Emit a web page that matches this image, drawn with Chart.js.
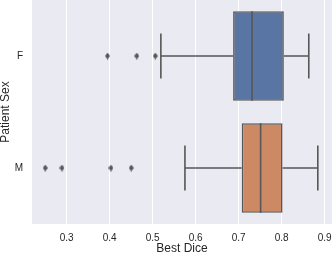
<!DOCTYPE html>
<html><head><meta charset="utf-8">
<script src="https://cdn.jsdelivr.net/npm/chart.js@4/dist/chart.umd.min.js"></script>
<style>html,body{margin:0;padding:0;background:#fff}</style>
</head><body>
<canvas id="c" width="332" height="256"></canvas>
<script>
// ---- data ----
const categories = ['F', 'M'];
const whiskerLow = [0.519, 0.575];
const q1 = [0.687, 0.707];
const median = [0.731, 0.751];
const q3 = [0.805, 0.802];
const whiskerHigh = [0.863, 0.884];
const outliersF = [0.395, 0.463, 0.506];
const outliersM = [0.250, 0.289, 0.403, 0.450];
const xTicks = [0.3, 0.4, 0.5, 0.6, 0.7, 0.8, 0.9];
const xLabel = 'Best Dice';
const yLabel = 'Patient Sex';

// ---- styles ----
const boxColors = ['#5875a4', '#cc8963'];
const lineGray = '#575757';
const capHalf = 0.2, boxHalf = 0.4;
const FONT = "'Liberation Sans', Arial, sans-serif";

// diamond marker
const mk = document.createElement('canvas');
mk.width = 5; mk.height = 7;
(function(){const g = mk.getContext('2d');g.fillStyle = lineGray;g.beginPath();g.moveTo(2.5,0);g.lineTo(5,3.5);g.lineTo(2.5,7);g.lineTo(0,3.5);g.closePath();g.fill();})();

const outlierSets = [outliersF, outliersM];
const lineData = [];
categories.forEach((c, i) => {
  const gap = {x: null, y: null};
  lineData.push({x: whiskerLow[i], y: i}, {x: q1[i], y: i}, gap);
  lineData.push({x: q3[i], y: i}, {x: whiskerHigh[i], y: i}, gap);
  lineData.push({x: whiskerLow[i], y: i - capHalf}, {x: whiskerLow[i], y: i + capHalf}, gap);
  lineData.push({x: whiskerHigh[i], y: i - capHalf}, {x: whiskerHigh[i], y: i + capHalf}, gap);
  lineData.push({x: median[i], y: i - boxHalf}, {x: median[i], y: i + boxHalf}, gap);
});
const outData = [];
outlierSets.forEach((arr, i) => arr.forEach(v => outData.push({x: v, y: i})));

const bgPlugin = {
  id: 'bg',
  beforeDraw(chart) {
    const {ctx, chartArea: a} = chart;
    ctx.save(); ctx.fillStyle = '#eaeaf2';
    ctx.fillRect(a.left, a.top, a.right - a.left, a.bottom - a.top);
    ctx.restore();
  }
};
const zeroPad = ax => { ax.paddingLeft = 0; ax.paddingRight = 0; ax.paddingTop = 0; ax.paddingBottom = 0; };

new Chart(document.getElementById('c'), {
  type: 'scatter',
  data: {
    datasets: [
      {type: 'scatter', data: lineData, showLine: true, spanGaps: false, borderColor: lineGray, borderWidth: 1.6, pointRadius: 0, indexAxis: 'x'},
      {type: 'scatter', data: outData, pointStyle: mk, pointRadius: 3, indexAxis: 'x'},
      {type: 'bar', indexAxis: 'y', data: categories.map((c, i) => ({x: [q1[i], q3[i]], y: i})),
       backgroundColor: boxColors, borderColor: lineGray, borderWidth: 1.6, borderSkipped: false,
       categoryPercentage: 0.8, barPercentage: 1}
    ]
  },
  options: {
    responsive: false, animation: false, devicePixelRatio: 1,
    layout: {autoPadding: false, padding: {top: 0, right: 0, bottom: 0, left: 0}},
    plugins: {legend: {display: false}, tooltip: {enabled: false}},
    scales: {
      x: {
        type: 'linear', min: 0.2193, max: 0.917, offset: false,
        afterBuildTicks: ax => { ax.ticks = xTicks.map(v => ({value: v})); },
        afterFit: ax => { ax.height = 32; zeroPad(ax); },
        grid: {color: '#ffffff', lineWidth: 1, drawTicks: false, offset: false},
        border: {display: false},
        ticks: {font: {family: FONT, size: 10}, color: '#262626', padding: 8, maxRotation: 0,
                callback: v => v.toFixed(1)},
        title: {display: true, text: xLabel, font: {family: FONT, size: 12}, color: '#262626', padding: {top: 0, bottom: -0.3}}
      },
      y: {
        type: 'linear', min: -0.5, max: 1.5, reverse: true, offset: false,
        afterBuildTicks: ax => { ax.ticks = categories.map((c, i) => ({value: i})); },
        afterFit: ax => { ax.width = 32; zeroPad(ax); },
        grid: {display: false, drawTicks: false, offset: false},
        border: {display: false},
        ticks: {font: {family: FONT, size: 10}, color: '#262626', padding: 9,
                callback: v => categories[v]},
        title: {display: true, text: yLabel, font: {family: FONT, size: 12}, color: '#262626', padding: {top: -1.3, bottom: 0}}
      }
    }
  },
  plugins: [bgPlugin]
});
</script>
</body></html>
